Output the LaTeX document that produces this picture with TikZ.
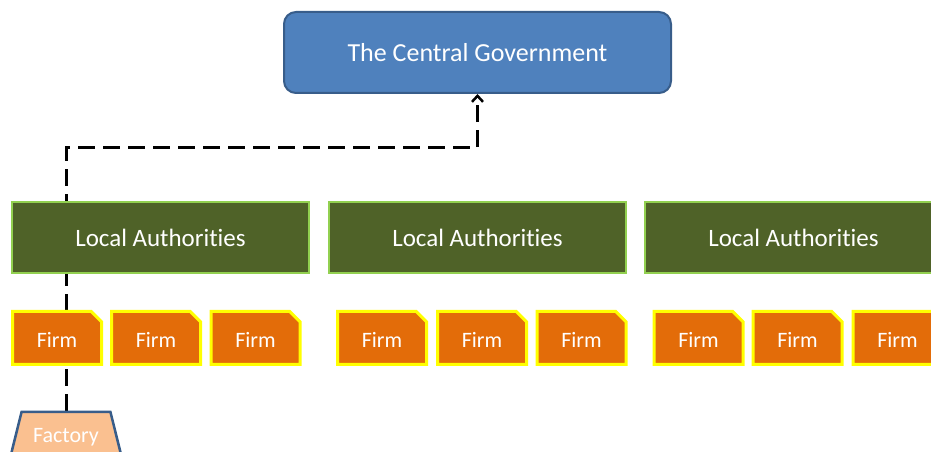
\documentclass[tikz,border=0pt]{standalone}
\usepackage{fontspec}
\setmainfont{Carlito}[Ligatures={NoCommon}]
\usetikzlibrary{positioning, arrows.meta, calc, shapes.misc, shapes.geometric, backgrounds}
\definecolor{govblue}{HTML}{4F81BD}
\definecolor{govedge}{HTML}{385D8A}
\definecolor{lagreen}{HTML}{4F6228}
\definecolor{laedge}{HTML}{92D050}
\definecolor{firmorange}{HTML}{E36C09}
\definecolor{firmedge}{HTML}{FFFF00}
\definecolor{factorypeach}{HTML}{FAC090}

\tikzset{
  govbox/.style={draw=govedge, fill=govblue, line width=2pt, rounded corners=12pt,
    minimum width=387pt, minimum height=81pt, text=white,
    font=\fontsize{26}{31}\selectfont},
  labox/.style={draw=laedge, fill=lagreen, line width=2pt,
    minimum width=297pt, minimum height=71pt, text=white,
    font=\fontsize{25}{30}\selectfont},
  firmbox/.style={chamfered rectangle, chamfered rectangle corners=north east,
    chamfered rectangle xsep=7pt, draw=firmedge, fill=firmorange, line width=3pt,
    minimum width=89pt, minimum height=53pt, inner sep=0pt, text=white,
    text height=19pt, text depth=0pt, font=\fontsize{22}{26}\selectfont},
  factorybox/.style={trapezium, trapezium angle=76, draw=govedge,
    fill=factorypeach, line width=2.5pt, text height=15pt, text depth=5pt,
    inner xsep=11.5pt, inner ysep=16pt, text=white,
    font=\fontsize{22}{26}\selectfont},
  dashline/.style={line width=3pt, dash pattern=on 17pt off 8pt,
    -{Straight Barb[length=6pt, width=11pt, line width=2.5pt]}}
}

\begin{document}
\begin{tikzpicture}[x=1pt, y=1pt]
  \useasboundingbox (0,0) rectangle (931,452);

  % top level
  \node[govbox] (gov) at (477.5,399.5) {The Central Government};

  % local authorities
  \node[labox] (la1) at (160.5,214.5) {Local Authorities};
  \node[labox] (la2) at (477.5,214.5) {Local Authorities};
  \node[labox] (la3) at (793.5,214.5) {Local Authorities};

  % firms under each authority
  \foreach \x [count=\i] in {57,156,255.5,382,482,581.5,698.5,797.5,897.5}
    \node[firmbox] (firm\i) at (\x,114) {Firm};

  \node[factorybox] (factory) at (66,14) {Factory};

  % reporting line, behind the boxes
  \coordinate (turn) at (gov.south |- 0,304);
  \begin{scope}[on background layer]
    \draw[dashline] (factory.north) |- (turn) -- (gov.south);
  \end{scope}
\end{tikzpicture}
\end{document}
